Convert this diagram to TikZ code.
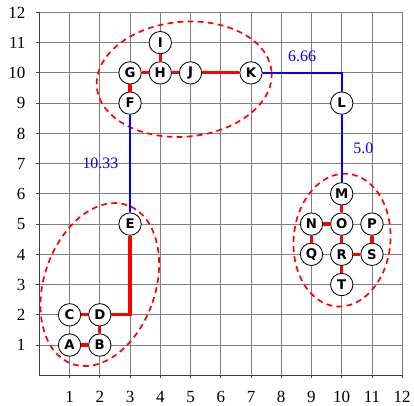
\documentclass[tikz,border=0pt]{standalone}
\usepackage{fontspec}
\setmainfont{Liberation Serif}
\newfontfamily\nodefont{DejaVu Sans}
\begin{document}
\begin{tikzpicture}[x=1cm,y=1cm,
  vtx/.style={circle, draw=black, line width=0.8pt, fill=white, minimum size=0.74cm, inner sep=0pt,
    font=\nodefont\bfseries\fontsize{12.5}{13}\selectfont},
  redge/.style={red, line width=3pt},
  bedge/.style={blue, line width=1.9pt},
  grp/.style={red, line width=1.6pt, dash pattern=on 5.5pt off 4pt},
  wlab/.style={blue, font=\fontsize{15}{18}\selectfont, inner sep=2pt},
  ticklab/.style={font=\fontsize{16}{19}\selectfont, inner sep=0pt}
]
\useasboundingbox (-1.30,-1.015) rectangle (12.39,12.41);
% grid and axes
\draw[black!50, line width=0.8pt] (0,0) grid (12,12);
\draw[black!75, line width=0.8pt] (0,12) -- (0,0) -- (12,0);
\foreach \i in {1,...,12} {
  \draw[black!75, line width=0.8pt] (\i,0) -- (\i,-0.1);
  \draw[black!75, line width=0.8pt] (0,\i) -- (-0.1,\i);
  \node[ticklab, anchor=base] at (\i,-0.91) {\i};
  \node[ticklab, anchor=base east] at (-0.45,\i-0.19) {\i};
}
% groups
\draw[grp, rotate around={-19:(2,3)}] (2,3) ellipse [x radius=1.84, y radius=2.78];
\draw[grp, rotate around={5:(4.79,9.79)}] (4.79,9.79) ellipse [x radius=2.9, y radius=1.9];
\draw[grp, rotate around={-5:(10.01,4.47)}] (10.01,4.47) ellipse [x radius=1.6, y radius=2.2];
% nodes
\node[vtx] (A) at (1,1) {A};
\node[vtx] (B) at (2,1) {B};
\node[vtx] (C) at (1,2) {C};
\node[vtx] (D) at (2,2) {D};
\node[vtx] (E) at (3,5) {E};
\node[vtx] (F) at (3,9) {F};
\node[vtx] (G) at (3,10) {G};
\node[vtx] (H) at (4,10) {H};
\node[vtx] (I) at (4,11) {I};
\node[vtx] (J) at (5,10) {J};
\node[vtx] (K) at (7,10) {K};
\node[vtx] (L) at (10,9) {L};
\node[vtx] (M) at (10,6) {M};
\node[vtx] (N) at (9,5) {N};
\node[vtx] (O) at (10,5) {O};
\node[vtx] (P) at (11,5) {P};
\node[vtx] (Q) at (9,4) {Q};
\node[vtx] (R) at (10,4) {R};
\node[vtx] (S) at (11,4) {S};
\node[vtx] (T) at (10,3) {T};
% red edges
\draw[redge] (A) -- (B);
\draw[redge] (C) -- (D);
\draw[redge] (B) -- (D);
\draw[redge] (D) -| (E);
\draw[redge] (F) -- (G);
\draw[redge] (G) -- (H);
\draw[redge] (H) -- (I);
\draw[redge] (H) -- (J);
\draw[redge] (J) -- (K);
\draw[redge] (M) -- (O);
\draw[redge] (N) -- (O);
\draw[redge] (N) -- (Q);
\draw[redge] (O) -- (R);
\draw[redge] (P) -- (S);
\draw[redge] (R) -- (S);
\draw[redge] (R) -- (T);
% blue edges
\draw[bedge] (E) -- node[wlab, midway, left=8pt] {10.33} (F);
\draw[bedge] (K) -| node[wlab, pos=0.25, above=8pt] {6.66} (L);
\draw[bedge] (L) -- node[wlab, midway, right=8pt] {5.0} (M);
\end{tikzpicture}
\end{document}
